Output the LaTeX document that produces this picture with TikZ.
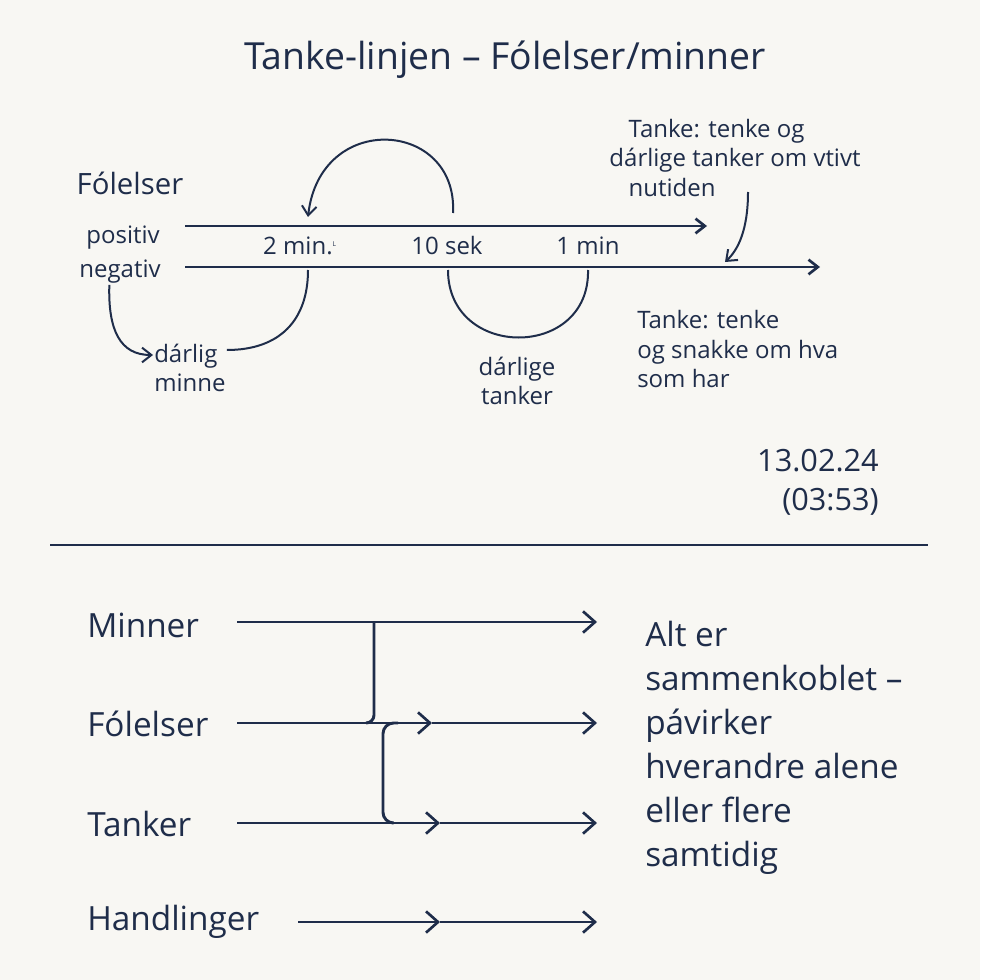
\documentclass[tikz,border=0pt]{standalone}
\usepackage{fontspec}
\setmainfont{Open Sans}
\usetikzlibrary{arrows.meta}
\definecolor{ink}{HTML}{1F2D4A}
\definecolor{paper}{HTML}{F8F7F3}
\tikzset{
  lbl/.style={inner sep=0.75pt, text=ink, font=\fontsize{18}{22}\selectfont},
  big/.style={inner sep=0.75pt, text=ink, font=\fontsize{25}{31}\selectfont, align=left},
  flow/.style={draw=ink, line width=2.2pt, -{Straight Barb[length=9pt,width=16pt,line width=2pt]}},
  thin/.style={draw=ink, line width=1.5pt},
  tip/.style={thin, -{Straight Barb[length=7pt,width=11pt]}}
}
\begin{document}
\begin{tikzpicture}[x=0.75pt,y=0.75pt,yscale=-1,xscale=1]
\fill[paper] (0,0) rectangle (980,980);
\useasboundingbox (0,0) rectangle (980,980);

% Title
\node[lbl, font=\fontsize{28}{32}\selectfont] (title) at (505,60) {Tanke-linjen -- Fólelser/minner};

% upper diagram labels
\node[lbl, font=\fontsize{22}{26}\selectfont] (fol) at (130,183) {Fólelser};
\node[lbl] (pos) at (123,238) {positiv};
\node[lbl] (neg) at (120,272) {negativ};
\node[lbl] (t2) at (300,246) {2 min.\textsuperscript{\tiny L}};
\node[lbl] (t10) at (447,246) {10 sek};
\node[lbl] (t1) at (588,246) {1 min};
\node[lbl, anchor=west, align=left] (minne) at (153,368) {dárlig\\minne};
\node[lbl, align=center] (tanker) at (517,381) {dárlige\\tanker};
\node[lbl, align=left] (topnote) at (735,158) {\hspace*{0.8em}Tanke: tenke og\\dárlige tanker om vtivt\\\hspace*{0.8em}nutiden};
\node[lbl, anchor=west, align=left] (botnote) at (636,349) {Tanke: tenke\\og snakke om hva\\som har};
\node[lbl, font=\fontsize{23}{29}\selectfont, align=right, anchor=east] (date) at (880,482) {13.02.24\\(03:53)};

% axes
\coordinate (pa) at (185,226); \coordinate (pb) at (707,226);
\coordinate (na) at (185,267); \coordinate (nb) at (820,267);
\draw[tip, line width=2pt] (pa) -- (pb);
\draw[tip, line width=2pt] (na) -- (nb);

% loops
\draw[tip] (453,213) .. controls (458,120) and (320,110) .. (308,217);
\draw[thin] (308,270) .. controls (308,320) and (280,350) .. (minne.north east |- 0,350);
\draw[thin] (448,270) .. controls (448,360) and (590,360) .. (588,270);
\draw[tip] ([xshift=-8]neg.south) .. controls (108,330) and (120,355) .. (minne.west |- 0,355);
\draw[tip] (748,192) .. controls (748,230) and (738,250) .. (725,262);

% divider
\draw[ink, line width=1.5pt] (50,545) -- (928,545);

% lower diagram
\node[big, anchor=west] (minner) at (86,625) {Minner};
\node[big, anchor=west] (folelser) at (86,724) {Fólelser};
\node[big, anchor=west] (tank) at (86,824) {Tanker};
\node[big, anchor=west] (handl) at (86,922) {Handlinger};
\node[big, anchor=north west, font=\fontsize{25}{33}\selectfont] (alt) at (644,620)
  {Alt er\\sammenkoblet --\\pávirker\\hverandre alene\\eller flere\\samtidig};

\coordinate (m1) at (237,622); \coordinate (m2) at (597,622);
\coordinate (f1) at (237,723); \coordinate (f2) at (597,723); \coordinate (fm) at (432,723);
\coordinate (k1) at (237,823); \coordinate (k2) at (597,823); \coordinate (km) at (440,823);
\coordinate (h1) at (298,922); \coordinate (h2) at (597,922); \coordinate (hm) at (440,922);
\draw[flow] (m1) -- (m2);
\draw[flow] (f1) -- (fm); \draw[flow] (fm) -- (f2);
\draw[flow] (k1) -- (km); \draw[flow] (km) -- (k2);
\draw[flow] (h1) -- (hm); \draw[flow] (hm) -- (h2);
\draw[draw=ink, line width=2.2pt, rounded corners=6pt] (374,622) -- (374,723) -- (366,723);
\draw[draw=ink, line width=2.2pt, rounded corners=8pt] (398,723) -- (383,723) -- (383,823) -- (392,823);
\end{tikzpicture}
\end{document}
